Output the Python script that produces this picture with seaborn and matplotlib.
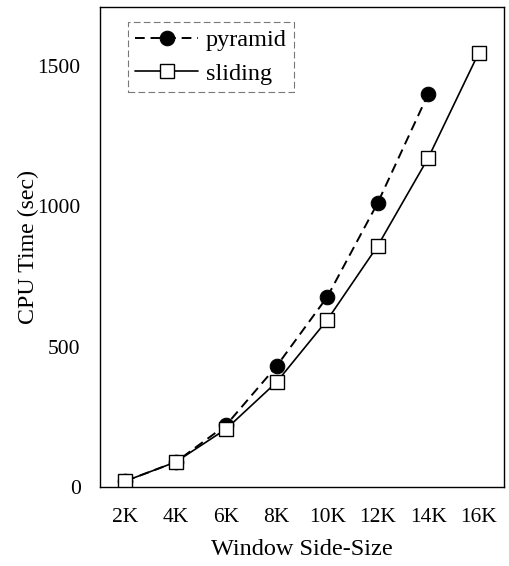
import matplotlib
matplotlib.use("Agg")
import matplotlib.pyplot as plt
import seaborn as sns
import pandas as pd

# ---------------------------------------------
# DATA
# ---------------------------------------------
window_k = [2, 4, 6, 8, 10, 12, 14, 16]
tick_labels = ["2K", "4K", "6K", "8K", "10K", "12K", "14K", "16K"]

pyramid_x = [2, 4, 6, 8, 10, 12, 14]
pyramid_time = [21, 89, 221, 431, 677, 1012, 1400]

sliding_x = [2, 4, 6, 8, 10, 12, 14, 16]
sliding_time = [21, 89, 207, 374, 595, 859, 1172, 1546]

y_ticks = [0, 500, 1000, 1500]

pyr_df = pd.DataFrame({"size": pyramid_x, "time": pyramid_time})
sld_df = pd.DataFrame({"size": sliding_x, "time": sliding_time})

# ---------------------------------------------
# STYLE
# ---------------------------------------------
sns.set_theme(style="white")
plt.rcParams["font.family"] = ["Liberation Serif", "DejaVu Serif"]
plt.rcParams["text.color"] = "black"
plt.rcParams["axes.labelcolor"] = "black"

fig = plt.figure(figsize=(5.09, 5.66), dpi=100)
ax = fig.add_axes([0.1965, 0.1396, 0.7935, 0.848])

sns.lineplot(
    data=pyr_df, x="size", y="time", ax=ax,
    color="black", linewidth=1.4, dashes=False,
    marker="o", markersize=10.5, markerfacecolor="black",
    markeredgecolor="black", label="pyramid"
)
ax.lines[-1].set_dashes((5, 3))

sns.lineplot(
    data=sld_df, x="size", y="time", ax=ax,
    color="black", linewidth=1.2,
    marker="s", markersize=10.5, markerfacecolor="white",
    markeredgecolor="black", markeredgewidth=1.0, label="sliding"
)

ax.set_xlim(1, 17)
ax.set_ylim(0, 1710)
ax.set_xticks(window_k)
ax.set_xticklabels(tick_labels)
ax.set_yticks(y_ticks)

ax.tick_params(axis="both", length=0, labelsize=15.5, colors="black")
ax.tick_params(axis="x", pad=15)
ax.tick_params(axis="y", pad=14)

ax.set_xlabel("Window Side-Size", fontsize=17.5, labelpad=9)
ax.set_ylabel("CPU Time (sec)", fontsize=17.2)
ax.yaxis.set_label_coords(-0.152, 0.5)

for spine in ax.spines.values():
    spine.set_color("black")
    spine.set_linewidth(1.0)

leg = ax.legend(
    loc="upper left", bbox_to_anchor=(0.069, 0.969),
    fontsize=17.5, handlelength=2.6, frameon=True, fancybox=False,
    borderpad=0.3, labelspacing=0.48, handletextpad=0.3,
    borderaxespad=0.0
)
frame = leg.get_frame()
frame.set_linestyle((0, (6, 3)))
frame.set_edgecolor("#555555")
frame.set_linewidth(0.8)
frame.set_facecolor("white")

fig.savefig("out.png", dpi=100)
